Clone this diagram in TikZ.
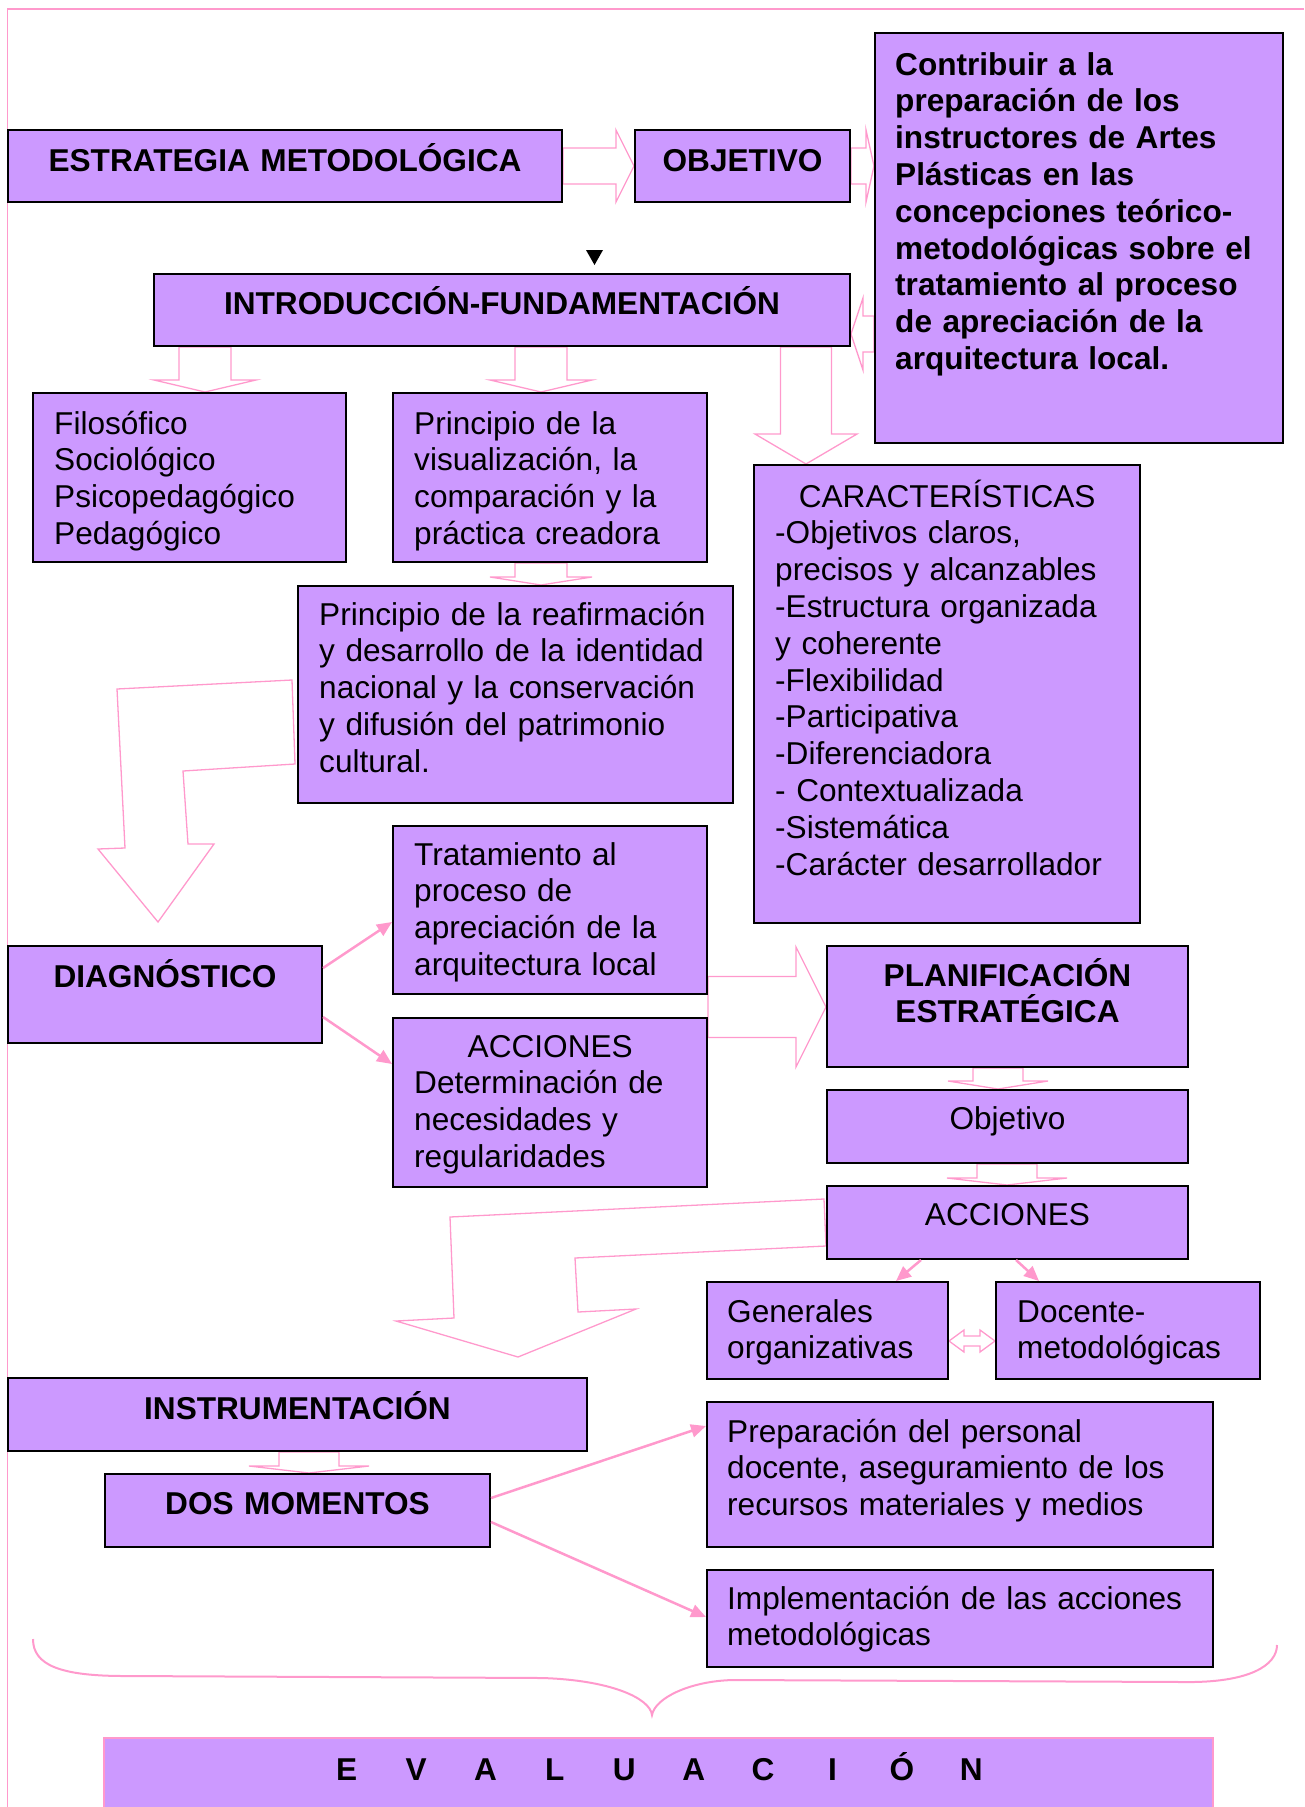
\documentclass[tikz,border=0pt]{standalone}
\usepackage{fontspec}
\setmainfont{Liberation Sans}
\usetikzlibrary{fit,calc,arrows.meta}
\definecolor{purp}{HTML}{CC99FF}
\definecolor{pnk}{HTML}{FF99CC}
\pgfdeclarelayer{bg}
\pgfsetlayers{bg,main}
\tikzset{
  box/.style={draw=black, line width=2pt, fill=purp, inner sep=0pt},
  ebox/.style={draw=pnk, line width=2pt, fill=purp, inner sep=0pt},
  blk/.style={draw=pnk, line width=1.3pt, line join=miter},
  parrow/.style={draw=pnk, line width=2.5pt, -{Triangle[length=15pt,width=13pt]}},
  txt/.style={inner sep=0pt, anchor=base west, align=left, font=\fontsize{31.6pt}{36.8pt}\selectfont},
  ctxt/.style={inner sep=0pt, anchor=base, align=center, font=\fontsize{31.6pt}{36.8pt}\selectfont},
  bold/.style={font=\fontsize{31.6pt}{36.8pt}\selectfont\bfseries},
}
% vertical (downward) block arrow: x, from, to, shaft half, head half, head length
\newcommand{\vblock}[6]{%
  \draw[blk] let \p1=(#2), \p2=(#3) in
    ({(#1-#4)*1pt},\y1) -- ({(#1-#4)*1pt},{\y2+#6pt}) -- ({(#1-#5)*1pt},{\y2+#6pt})
    -- ({#1pt},\y2) -- ({(#1+#5)*1pt},{\y2+#6pt}) -- ({(#1+#4)*1pt},{\y2+#6pt})
    -- ({(#1+#4)*1pt},\y1) -- cycle;}
% horizontal block arrow: y, from, to, shaft half, head half, signed head length
\newcommand{\hblock}[6]{%
  \draw[blk] let \p1=(#2), \p2=(#3) in
    (\x1,{-(#1-#4)*1pt}) -- ({\x2-(#6pt)},{-(#1-#4)*1pt}) -- ({\x2-(#6pt)},{-(#1-#5)*1pt})
    -- (\x2,{-#1pt}) -- ({\x2-(#6pt)},{-(#1+#5)*1pt}) -- ({\x2-(#6pt)},{-(#1+#4)*1pt})
    -- (\x1,{-(#1+#4)*1pt}) -- cycle;}
\begin{document}
\begin{tikzpicture}[x=1pt,y=-1pt]
\useasboundingbox (0,0) rectangle (1304,1807);
% frame
\draw[pnk, line width=1.5pt] (1304,9) -- (7.5,9) -- (7.5,1807);

% boxes
\node[box, fit={(8,130) (562,202)}] (estr) {};
\node[box, fit={(635,130) (850,202)}] (obj) {};
\node[box, fit={(875,33) (1283,443)}] (contrib) {};
\node[box, fit={(154,274) (850,346)}] (intro) {};
\node[box, fit={(33,393) (346,562)}] (filo) {};
\node[box, fit={(393,393) (707,562)}] (visual) {};
\node[box, fit={(754,465) (1140,923)}] (caract) {};
\node[box, fit={(298,586) (733,803)}] (reaf) {};
\node[box, fit={(393,826) (707,994)}] (trat) {};
\node[box, fit={(8,946) (322,1043)}] (diag) {};
\node[box, fit={(393,1018) (707,1187)}] (accl) {};
\node[box, fit={(827,946) (1188,1067)}] (plan) {};
\node[box, fit={(827,1090) (1188,1163)}] (objt) {};
\node[box, fit={(827,1186) (1188,1259)}] (accr) {};
\node[box, fit={(707,1282) (948,1379)}] (gen) {};
\node[box, fit={(996,1282) (1260,1379)}] (doc) {};
\node[box, fit={(8,1378) (587,1451)}] (instr) {};
\node[box, fit={(105,1474) (490,1547)}] (dos) {};
\node[box, fit={(707,1402) (1213,1547)}] (prep) {};
\node[box, fit={(707,1570) (1213,1667)}] (impl) {};
\node[ebox, fit={(104,1738) (1213,1840)}] (eval) {};

% block arrows (behind boxes)
\begin{pgfonlayer}{bg}
\hblock{166}{estr.east}{obj.west}{18}{36}{18}
\hblock{166}{obj.east}{contrib.west}{18}{36}{8}
\hblock{334}{contrib.west}{intro.east}{18}{36}{-12}
\vblock{205}{intro.south}{filo.north}{26}{51}{12}
\vblock{541}{intro.south}{visual.north}{26}{51}{12}
\vblock{806}{intro.south}{caract.north}{25.5}{51}{30}
\vblock{541}{visual.south}{reaf.north}{26}{51}{8}
\hblock{1007}{trat.south east}{plan.west}{30.5}{60}{30}
\vblock{998}{plan.south}{objt.north}{25}{50}{8}
\vblock{1007}{objt.south}{accr.north}{30}{60}{7}
\vblock{309}{instr.south}{dos.north}{30}{60}{7}
% bent arrow from reafirmacion to diagnostico
\draw[blk] ([shift={(-5,95)}]reaf.north west) -- (117,689) -- (125,848) -- (98,849)
  -- ([shift={(-7,-23)}]diag.north) -- (214,844) -- (188,844) -- (183,771)
  -- ([shift={(-2,179)}]reaf.north west) -- cycle;
% bent arrow from acciones to instrumentacion
\draw[blk] ([shift={(-2,14)}]accr.north west) -- (450,1217) -- (454,1318) -- (396,1321)
  -- ([shift={(-70,-20)}]instr.north east) -- (636,1309) -- (578,1312) -- (575,1258)
  -- ([shift={(0,61)}]accr.north west) -- cycle;
% double arrow between generales and docente
\draw[blk] let \p1=(gen.east), \p2=(doc.west) in
  (\x1,-1341pt) -- ({\x1+15pt},-1330pt) -- ({\x1+15pt},-1336pt) -- ({\x2-15pt},-1336pt)
  -- ({\x2-15pt},-1330pt) -- (\x2,-1341pt) -- ({\x2-15pt},-1352pt) -- ({\x2-15pt},-1346pt)
  -- ({\x1+15pt},-1346pt) -- ({\x1+15pt},-1352pt) -- cycle;
\end{pgfonlayer}

% small black arrowhead
\fill[black] (586,250) -- (603,250) -- (594.5,265) -- cycle;

% thin pink arrows
\draw[parrow] ([shift={(0,23)}]diag.north east) -- ([shift={(0,97)}]trat.north west);
\draw[parrow] ([shift={(0,72)}]diag.north east) -- ([shift={(0,47)}]accl.north west);
\draw[parrow] ([shift={(95,0)}]accr.south west) -- ([shift={(190,0)}]gen.north west);
\draw[parrow] ([shift={(190,0)}]accr.south west) -- ([shift={(44,0)}]doc.north west);
\draw[parrow] ([shift={(0,25)}]dos.north east) -- ([shift={(0,25)}]prep.north west);
\draw[parrow] ([shift={(0,49)}]dos.north east) -- ([shift={(0,48)}]impl.north west);

% brace
\draw[pnk, line width=2pt] (33,1639) .. controls (33,1665) and (60,1676) .. (125,1676)
  -- (542,1678) .. controls (610,1680) and (650,1698) .. (652,1715)
  .. controls (655,1698) and (690,1681) .. (733,1680) -- (1183,1682)
  .. controls (1250,1683) and (1277,1665) .. (1277,1645);

% texts
\node[ctxt, bold, text width=540pt] (t-estr) at (285,171) {ESTRATEGIA METODOLÓGICA};
\node[ctxt, bold, text width=200pt] (t-obj) at (742.5,171) {OBJETIVO};
\node[txt, bold, text width=382pt] (t-contrib) at (895,75) {Contribuir a la\\preparación de los\\instructores de Artes\\Plásticas en las\\concepciones teórico-\\metodológicas sobre el\\tratamiento al proceso\\de apreciación de la\\arquitectura local.};
\node[ctxt, bold, text width=680pt] (t-intro) at (502,314) {INTRODUCCIÓN-FUNDAMENTACIÓN};
\node[txt, text width=285pt] (t-filo) at (54,434) {Filosófico\\Sociológico\\Psicopedagógico\\Pedagógico};
\node[txt, text width=285pt] (t-visual) at (414,434) {Principio de la\\visualización, la\\comparación y la\\práctica creadora};
\node[txt, text width=344pt] (t-caract) at (775,507) {\makebox[\linewidth][c]{CARACTERÍSTICAS}\\-Objetivos claros,\\precisos y alcanzables\\-Estructura organizada\\y coherente\\-Flexibilidad\\-Participativa\\-Diferenciadora\\- Contextualizada\\-Sistemática\\-Carácter desarrollador};
\node[txt, text width=410pt] (t-reaf) at (319,625) {Principio de la reafirmación\\y desarrollo de la identidad\\nacional y la conservación\\y difusión del patrimonio\\cultural.};
\node[txt, text width=285pt] (t-trat) at (414,865) {Tratamiento al\\proceso de\\apreciación de la\\arquitectura local};
\node[ctxt, bold, text width=300pt] (t-diag) at (165,987) {DIAGNÓSTICO};
\node[txt, text width=272pt] (t-accl) at (414,1057) {\makebox[\linewidth][c]{ACCIONES}\\Determinación de\\necesidades y\\regularidades};
\node[ctxt, bold, text width=350pt] (t-plan) at (1007.5,986) {PLANIFICACIÓN\\ESTRATÉGICA};
\node[ctxt, text width=350pt] (t-objt) at (1007.5,1129) {Objetivo};
\node[ctxt, text width=350pt] (t-accr) at (1007.5,1225) {ACCIONES};
\node[txt, text width=218pt] (t-gen) at (727,1322) {Generales\\organizativas};
\node[txt, text width=240pt] (t-doc) at (1017,1322) {Docente-\\metodológicas};
\node[ctxt, bold, text width=560pt] (t-instr) at (297.5,1419) {INSTRUMENTACIÓN};
\node[ctxt, bold, text width=370pt] (t-dos) at (297.5,1514) {DOS MOMENTOS};
\node[txt, text width=482pt] (t-prep) at (727,1442) {Preparación del personal\\docente, aseguramiento de los\\recursos materiales y medios};
\node[txt, text width=482pt] (t-impl) at (727,1609) {Implementación de las acciones\\metodológicas};
\node[ctxt, bold, text width=1000pt] (t-eval) at (659,1780) {\makebox[69.4pt]{E}\makebox[69.4pt]{V}\makebox[69.4pt]{A}\makebox[69.4pt]{L}\makebox[69.4pt]{U}\makebox[69.4pt]{A}\makebox[69.4pt]{C}\makebox[69.4pt]{I}\makebox[69.4pt]{Ó}\makebox[69.4pt]{N}};
\end{tikzpicture}
\end{document}
